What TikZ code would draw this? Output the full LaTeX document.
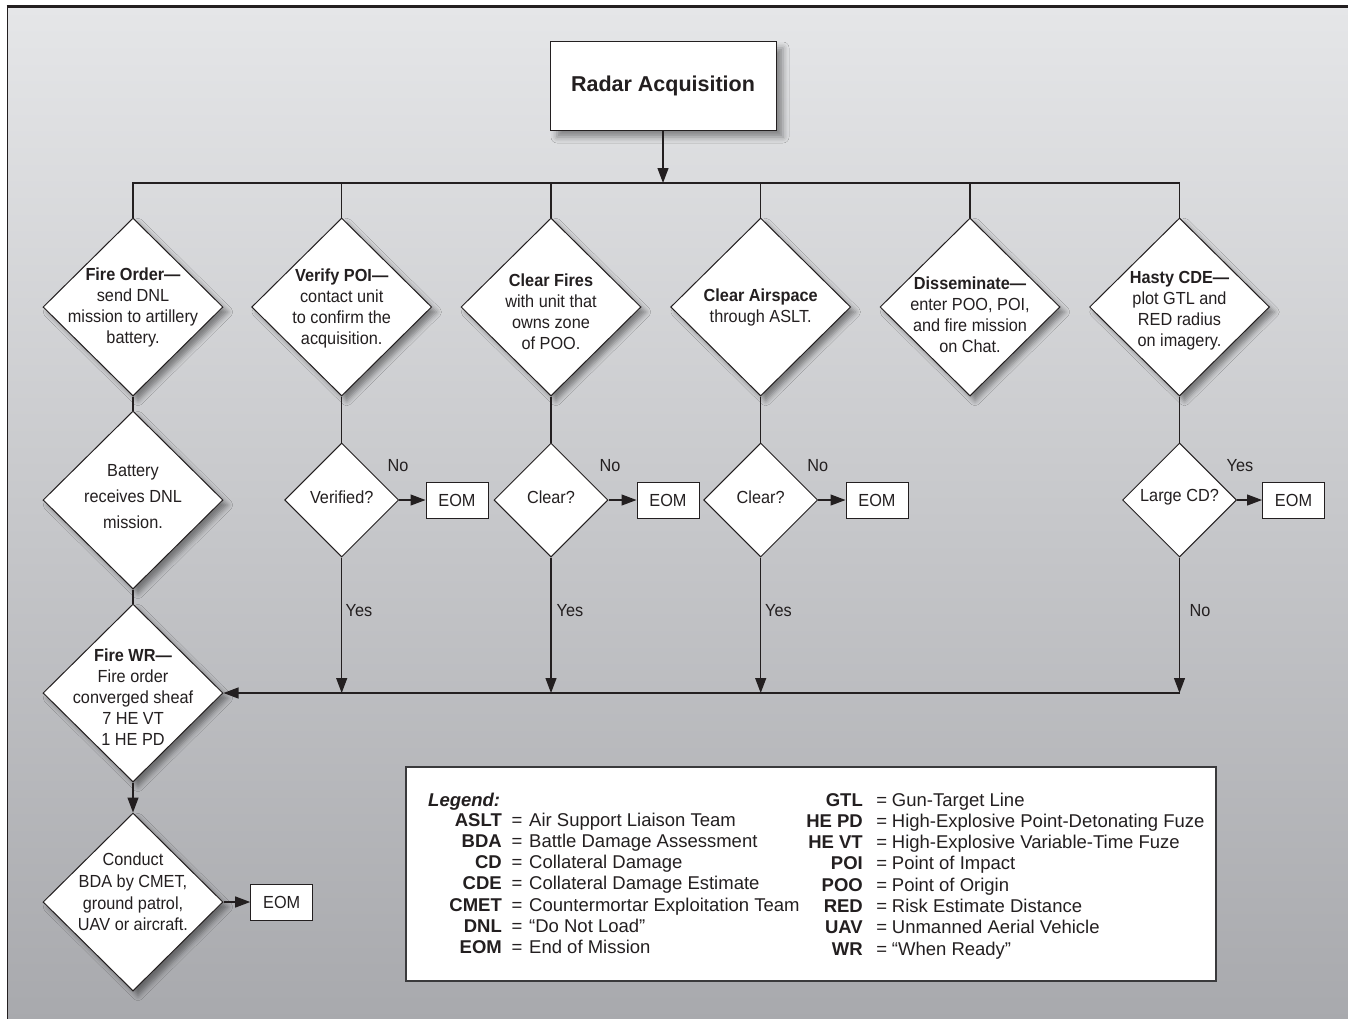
\documentclass[tikz,border=0pt]{standalone}
\usepackage{fontspec}
\setmainfont{Liberation Sans}
\newfontfamily\condf[FakeStretch=0.93]{Liberation Sans}
\usetikzlibrary{shapes.geometric,arrows.meta,shadows.blur}
\definecolor{ink}{HTML}{231F20}
\definecolor{bgtop}{HTML}{E5E6E8}
\definecolor{bgbot}{HTML}{A8A9AD}
\definecolor{lgframe}{HTML}{3A3A3C}
\begin{document}
\begin{tikzpicture}[x=1pt,y=-1pt,
  dshadow/.style={blur shadow={shadow xshift=5pt,shadow yshift=-5pt,shadow blur radius=5pt,shadow opacity=40}},
  bigdia/.style={diamond,draw=ink,fill=white,line width=1pt,minimum width=180pt,minimum height=178pt,inner sep=0pt,dshadow},
  smalldia/.style={diamond,draw=ink,fill=white,line width=1pt,minimum width=114pt,minimum height=114pt,inner sep=0pt},
  eombox/.style={rectangle,draw=ink,fill=white,line width=1pt,minimum width=62pt,minimum height=36pt,inner sep=0pt,font=\condf\fontsize{17.5}{21}\selectfont,text=ink},
  dtxt/.style={align=center,font=\condf\fontsize{17.5}{21}\selectfont,text=ink,inner sep=0pt},
  lbl/.style={font=\condf\fontsize{17.5}{21}\selectfont,text=ink,inner sep=0pt},
  conn/.style={draw=ink,line width=1.2pt},
  arr/.style={conn,-{Triangle[length=15pt,width=11pt]}},
  legf/.style={inner sep=0pt,text=ink,font=\fontsize{18.5}{21.3}\selectfont}
]
\useasboundingbox (0,0) rectangle (1348,1018);
% background frame
\fill[top color=bgtop,bottom color=bgbot] (7,6) rectangle (1352,1022);
\draw[ink,line width=3pt] (6.5,6.3) -- (1352,6.3);
\draw[ink,line width=1.5pt] (7.3,5) -- (7.3,1022);

% top box
\node[rectangle,draw=ink,fill=white,line width=1pt,minimum width=226pt,minimum height=89pt,inner sep=0pt,
  blur shadow={shadow xshift=7pt,shadow yshift=-7pt,shadow blur radius=6pt,shadow opacity=40},
  font=\fontsize{21.5}{25}\selectfont\bfseries,text=ink] (ra) at (663,85.5) {Radar Acquisition};

% big diamonds
\node[bigdia] (fo) at (133,307) {};
\node[bigdia] (vp) at (341.7,307) {};
\node[bigdia] (cf) at (551,307) {};
\node[bigdia] (ca) at (760.7,307) {};
\node[bigdia] (ds) at (970,307) {};
\node[bigdia] (hc) at (1179.5,307) {};
\node[bigdia] (bat) at (133,500) {};
\node[bigdia] (fw) at (133,693) {};
\node[bigdia] (cd) at (133,902) {};

\node[dtxt] (fot) at (133,307) {{\bfseries Fire Order—}\\send DNL\\mission to artillery\\battery.};
\node[dtxt] (vpt) at (341.7,308) {{\bfseries Verify POI—}\\contact unit\\to confirm the\\acquisition.};
\node[dtxt] (cft) at (551,312) {{\bfseries Clear Fires}\\with unit that\\owns zone\\of POO.};
\node[dtxt] (cat) at (760.7,307) {{\bfseries Clear Airspace}\\through ASLT.};
\node[dtxt] (dst) at (970,315) {{\bfseries Disseminate—}\\enter POO, POI,\\and fire mission\\on Chat.};
\node[dtxt] (hct) at (1179.5,311) {{\bfseries Hasty CDE—}\\plot GTL and\\RED radius\\on imagery.};
\node[dtxt,font=\condf\fontsize{17.5}{26}\selectfont] (batt) at (133,497) {Battery\\receives DNL\\mission.};
\node[dtxt] (fwt) at (133,697) {{\bfseries Fire WR—}\\Fire order\\converged sheaf\\7 HE VT\\1 HE PD};
\node[dtxt,font=\condf\fontsize{17.5}{21.7}\selectfont] (cdt) at (133,892) {Conduct\\BDA by CMET,\\ground patrol,\\UAV or aircraft.};

% small diamonds
\node[smalldia] (q1) at (341.7,500) {};
\node[smalldia] (q2) at (551,500) {};
\node[smalldia] (q3) at (760.7,500) {};
\node[smalldia] (q4) at (1179.5,500) {};
\node[lbl] (q1t) at (341.7,497) {Verified?};
\node[lbl] (q2t) at (551,497) {Clear?};
\node[lbl] (q3t) at (760.7,497) {Clear?};
\node[lbl] (q4t) at (1179.5,497) {Large CD?};

% EOM boxes
\node[eombox] (e1) at (457,500) {EOM};
\node[eombox] (e2) at (668,500) {EOM};
\node[eombox] (e3) at (877,500) {EOM};
\node[eombox] (e4) at (1293.5,500) {EOM};
\node[eombox] (e5) at (281.7,902) {EOM};

% connectors
\coordinate (busR) at (663,183);
\coordinate (retR) at (1179.5,693);
\draw[conn] (fo.north) |- (busR) -| (hc.north);
\foreach \n in {vp,cf,ca,ds} \draw[conn] (\n.north) -- (\n.north |- busR);
\draw[arr] (ra.south) -- (ra.south |- busR);
\draw[conn] (fo.south) -- (bat.north);
\draw[conn] (bat.south) -- (fw.north);
\draw[arr] (fw.south) -- (cd.north);
\draw[arr] (cd.east) -- (e5.west);
\draw[conn] (vp.south) -- (q1.north);
\draw[conn] (cf.south) -- (q2.north);
\draw[conn] (ca.south) -- (q3.north);
\draw[conn] (hc.south) -- (q4.north);
\draw[arr] (q1.east) -- (e1.west);
\draw[arr] (q2.east) -- (e2.west);
\draw[arr] (q3.east) -- (e3.west);
\draw[arr] (q4.east) -- (e4.west);
\draw[arr] (retR) -- (fw.east);
\foreach \q in {q1,q2,q3,q4} \draw[arr] (\q.south) -- (\q.south |- retR);

% branch labels
\node[lbl] (n1) at (398,466) {No};
\node[lbl] (n2) at (610,466) {No};
\node[lbl] (n3) at (817.7,466) {No};
\node[lbl] (y4) at (1240,466) {Yes};
\node[lbl] (y1) at (359,611) {Yes};
\node[lbl] (y2) at (570,611) {Yes};
\node[lbl] (y3) at (778.5,611) {Yes};
\node[lbl] (n4) at (1200,611) {No};

% legend
\node[draw=lgframe,fill=white,line width=1.2pt,minimum width=810pt,minimum height=214pt,inner sep=0pt] (lg) at (811,874) {};
\node[legf,anchor=base west] (lgt) at (428,806) {\bfseries\itshape Legend:};
\node[legf,anchor=base east] (lk1) at (502,826) {\begin{tabular}[t]{@{}r@{}}\bfseries ASLT\\\bfseries BDA\\\bfseries CD\\\bfseries CDE\\\bfseries CMET\\\bfseries DNL\\\bfseries EOM\end{tabular}};
\node[legf,anchor=base] (le1) at (517,826) {\begin{tabular}[t]{@{}c@{}}=\\=\\=\\=\\=\\=\\=\end{tabular}};
\node[legf,anchor=base west] (lv1) at (529,826) {\begin{tabular}[t]{@{}l@{}}Air Support Liaison Team\\Battle Damage Assessment\\Collateral Damage\\Collateral Damage Estimate\\Countermortar Exploitation Team\\“Do Not Load”\\End of Mission\end{tabular}};
\node[legf,anchor=base east] (lk2) at (863,806) {\begin{tabular}[t]{@{}r@{}}\bfseries GTL\\\bfseries HE PD\\\bfseries HE VT\\\bfseries POI\\\bfseries POO\\\bfseries RED\\\bfseries UAV\\\bfseries WR\end{tabular}};
\node[legf,anchor=base] (le2) at (881.7,806) {\begin{tabular}[t]{@{}c@{}}=\\=\\=\\=\\=\\=\\=\\=\end{tabular}};
\node[legf,anchor=base west] (lv2) at (891.7,806) {\begin{tabular}[t]{@{}l@{}}Gun-Target Line\\High-Explosive Point-Detonating Fuze\\High-Explosive Variable-Time Fuze\\Point of Impact\\Point of Origin\\Risk Estimate Distance\\Unmanned Aerial Vehicle\\“When Ready”\end{tabular}};
\end{tikzpicture}
\end{document}
